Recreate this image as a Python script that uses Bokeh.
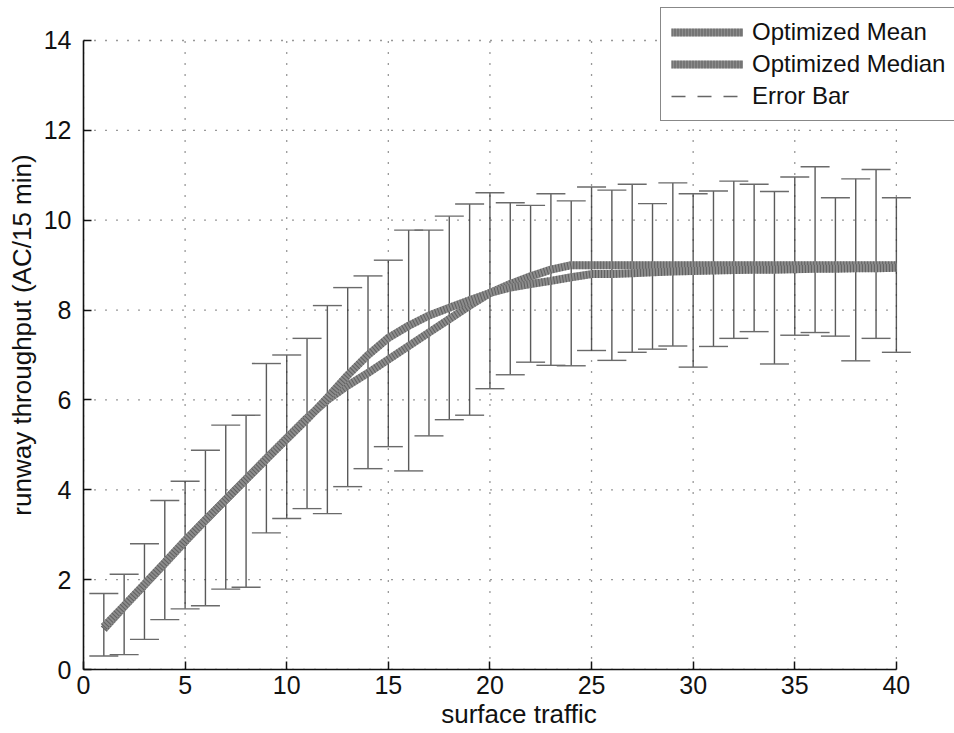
import numpy as np
from bokeh.plotting import figure
from bokeh.models import (ColumnDataSource, Whisker, TeeHead, Legend, LegendItem,
                          FixedTicker, Range1d)
from bokeh.embed import file_html
from bokeh.resources import INLINE

# ---------------- data ----------------
traffic = list(range(1, 41))

mean_throughput = [0.95, 1.42, 1.90, 2.38, 2.87, 3.33, 3.78, 4.23, 4.68, 5.13,
                   5.57, 6.05, 6.55, 7.00, 7.38, 7.65, 7.88, 8.05, 8.22, 8.38,
                   8.50, 8.58, 8.65, 8.73, 8.80, 8.80, 8.82, 8.84, 8.86, 8.87,
                   8.88, 8.89, 8.90, 8.90, 8.91, 8.92, 8.92, 8.93, 8.93, 8.94]

median_throughput = [0.90, 1.40, 1.88, 2.36, 2.85, 3.32, 3.78, 4.24, 4.70, 5.15,
                     5.60, 6.00, 6.32, 6.60, 6.90, 7.20, 7.50, 7.80, 8.10, 8.38,
                     8.58, 8.75, 8.90, 9.00, 9.00, 9.00, 9.00, 9.00, 9.00, 9.00,
                     9.00, 9.00, 9.00, 9.00, 9.00, 9.00, 9.00, 9.00, 9.00, 9.00]

err_upper = [1.69, 2.12, 2.80, 3.76, 4.19, 4.88, 5.44, 5.66, 6.81, 7.00,
             7.37, 8.10, 8.50, 8.76, 9.11, 9.78, 9.78, 10.09, 10.36, 10.61,
             10.39, 10.33, 10.59, 10.43, 10.74, 10.67, 10.80, 10.37, 10.83, 10.59,
             10.65, 10.87, 10.80, 10.64, 10.96, 11.19, 10.50, 10.92, 11.13, 10.50]

err_lower = [0.30, 0.33, 0.67, 1.11, 1.35, 1.42, 1.79, 1.83, 3.04, 3.36,
             3.58, 3.47, 4.07, 4.47, 4.96, 4.42, 5.20, 5.56, 5.66, 6.25,
             6.56, 6.84, 6.77, 6.76, 7.10, 6.88, 7.06, 7.13, 7.20, 6.73,
             7.19, 7.37, 7.52, 6.80, 7.44, 7.50, 7.42, 6.87, 7.37, 7.06]

x_ticks = [0, 5, 10, 15, 20, 25, 30, 35, 40]
y_ticks = [0, 2, 4, 6, 8, 10, 12, 14]

FONT = "Liberation Sans"

src = ColumnDataSource(dict(x=traffic, mean=mean_throughput, median=median_throughput,
                            upper=err_upper, lower=err_lower))

x_lo, x_hi = min(x_ticks), max(x_ticks)
y_lo, y_hi = min(y_ticks), max(y_ticks)

# frame extends to the top/right canvas edges so the legend can overlap that area
p = figure(width=954, height=733, output_backend="svg", toolbar_location=None,
           x_range=Range1d(x_lo, x_hi + 2.86), y_range=Range1d(y_lo, y_hi + 0.89),
           min_border_left=83, min_border_right=0, min_border_top=0, min_border_bottom=64)
p.outline_line_color = None
p.background_fill_color = "white"
p.border_fill_color = "white"
p.grid.visible = False

# axes
for ax in (p.xaxis[0], p.yaxis[0]):
    ax.major_tick_in = 8
    ax.major_tick_out = 0
    ax.minor_tick_line_color = None
    ax.axis_line_width = 1.6
    ax.axis_line_color = "#111111"
    ax.major_tick_line_width = 1.5
    ax.major_tick_line_color = "#111111"
    ax.major_label_text_font = FONT
    ax.major_label_text_font_size = "25px"
    ax.major_label_text_color = "#111111"
    ax.axis_label_text_font = FONT
    ax.axis_label_text_font_size = "26px"
    ax.axis_label_text_font_style = "normal"
    ax.axis_label_text_color = "#111111"

p.xaxis.ticker = FixedTicker(ticks=x_ticks)
p.yaxis.ticker = FixedTicker(ticks=y_ticks)
p.xaxis.bounds = (x_lo, x_hi)
p.yaxis.bounds = (y_lo, y_hi)
p.xaxis.axis_label = "surface traffic"
p.yaxis.axis_label = "runway throughput (AC/15 min)"
p.xaxis.major_label_standoff = 6
p.xaxis.axis_label_standoff = 2
p.yaxis.major_label_standoff = 12
p.yaxis.axis_label_standoff = 4

# dotted grid limited to the data box
nx, ny = len(x_ticks), len(y_ticks)
p.segment(x0=x_ticks, y0=[y_lo] * nx, x1=x_ticks, y1=[y_hi] * nx,
          line_color="#333333", line_width=1.3, line_dash="1 10")
p.segment(x0=[x_lo] * ny, y0=y_ticks, x1=[x_hi] * ny, y1=y_ticks,
          line_color="#333333", line_width=1.3, line_dash="1 10")

# error bars
wh = Whisker(source=src, base="x", upper="upper", lower="lower", dimension="height",
             line_color="#5a5a5a", line_width=1.4,
             upper_head=TeeHead(size=29, line_color="#6a6a6a", line_width=1.4),
             lower_head=TeeHead(size=29, line_color="#6a6a6a", line_width=1.4))
p.add_layout(wh)

# thick hatched-looking lines
r_med = p.line("x", "median", source=src, line_width=8, line_color="#8c8c8c")
r_med2 = p.line("x", "median", source=src, line_width=8, line_color="#3c3c3c",
                line_dash="1 2", line_alpha=0.55)
r_mean = p.line("x", "mean", source=src, line_width=8, line_color="#8c8c8c")
r_mean2 = p.line("x", "mean", source=src, line_width=8, line_color="#3c3c3c",
                 line_dash="1 2", line_alpha=0.55)

# legend-only glyph for error bar
r_err = p.line(x=[np.nan], y=[np.nan], line_color="#666666", line_width=1.4,
               line_dash="14 12")

legend = Legend(items=[LegendItem(label="Optimized Mean", renderers=[r_mean, r_mean2]),
                       LegendItem(label="Optimized Median", renderers=[r_med, r_med2]),
                       LegendItem(label="Error Bar", renderers=[r_err])],
                location=(577, 548), margin=0, padding=10, spacing=4,
                glyph_width=72, glyph_height=28, label_height=28, label_standoff=9,
                label_text_font=FONT, label_text_font_size="24px",
                label_text_color="#111111",
                border_line_color="#111111", border_line_width=1.6,
                background_fill_color="white", background_fill_alpha=1.0)
p.add_layout(legend)

open("out.html", "w").write(file_html(p, INLINE))
